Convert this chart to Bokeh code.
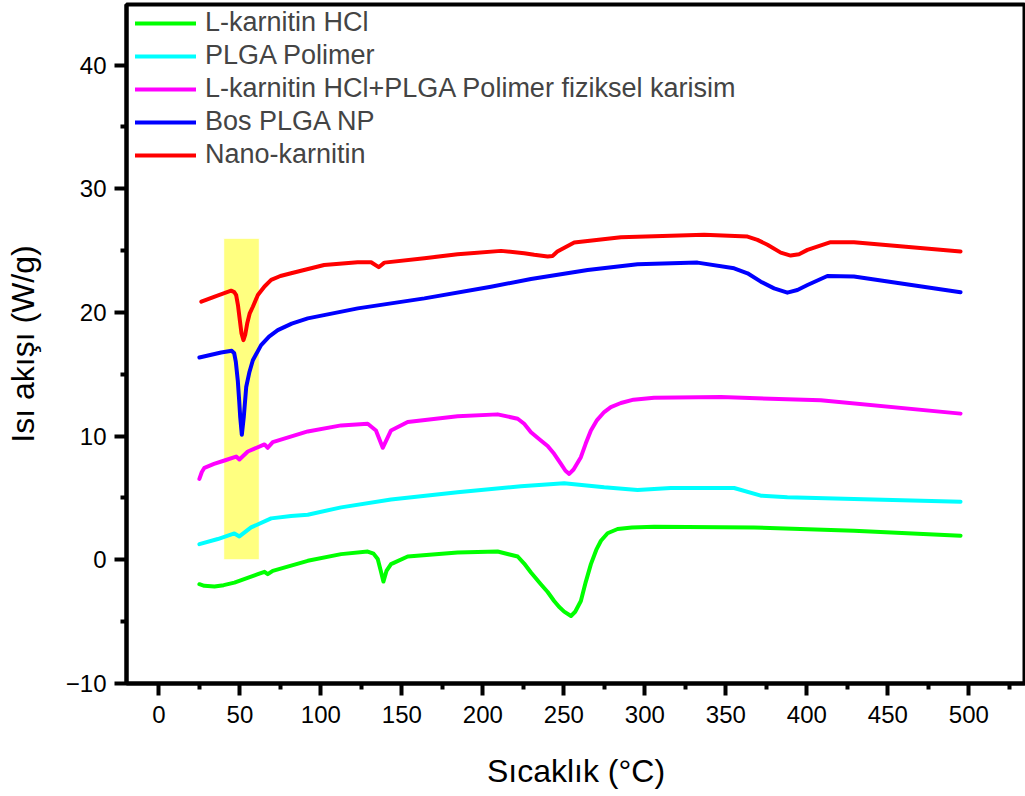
from bokeh.plotting import figure
from bokeh.models import Range1d, FixedTicker, Legend, LegendItem
from bokeh.embed import file_html
from bokeh.resources import INLINE

# ---------------- data ----------------
series_names = ["L-karnitin HCl", "PLGA Polimer",
                "L-karnitin HCl+PLGA Polimer fiziksel karisim",
                "Bos PLGA NP", "Nano-karnitin"]
series_colors = ["#00ff00", "#00ffff", "#ff00ff", "#0000ff", "#ff0000"]

green_x = [25, 28, 34.3, 40, 46.6, 61.1, 65.2, 67.2, 70.3, 91.9, 112.5, 128.9, 132.5,
           135.1, 137, 138.6, 140.5, 143.3, 153.6, 184.4, 209.1, 221.5, 225.5, 229.7,
           235.8, 240, 244, 247, 250.2, 254.4, 257, 260.5, 263.5, 266.7, 270, 272.9,
           277, 283.2, 292, 305.7, 367.4, 429.1, 494.9]
green_y = [-1.97, -2.1, -2.16, -2.05, -1.84, -1.16, -0.97, -1.16, -0.89, -0.08, 0.46,
           0.67, 0.5, 0.06, -0.9, -1.76, -0.9, -0.35, 0.27, 0.59, 0.67, 0.27, -0.3,
           -1.03, -1.97, -2.6, -3.33, -3.8, -4.19, -4.54, -4.2, -3.33, -1.8, -0.35, 0.8,
           1.54, 2.15, 2.49, 2.62, 2.68, 2.62, 2.35, 1.95]

cyan_x = [25, 36.4, 46.6, 49.7, 56.9, 69.3, 81.6, 91.9, 112.5, 143.3, 184.4, 223.5,
          250.2, 274.9, 295.5, 316, 355.1, 371.6, 388, 429.1, 494.9]
cyan_y = [1.27, 1.68, 2.13, 1.89, 2.62, 3.35, 3.54, 3.65, 4.24, 4.87, 5.46, 5.95,
          6.19, 5.86, 5.65, 5.81, 5.81, 5.19, 5.05, 4.92, 4.7]

magenta_x = [25, 26.5, 28.1, 34, 40.5, 47.7, 49.7, 54.9, 65.2, 67.2, 70.3, 91.9, 112.5,
             128.9, 134, 138.2, 143.3, 153.6, 184.4, 209.1, 221.5, 225.5, 229.7, 235.8,
             240, 244, 248, 251, 253.3, 256, 260.5, 263.5, 266.7, 270.5, 274.9, 279,
             285.2, 293, 305.7, 346.9, 408.6, 494.9]
magenta_y = [6.54, 7.1, 7.44, 7.75, 8.03, 8.35, 8.11, 8.76, 9.33, 9.06, 9.51, 10.38,
             10.87, 11.0, 10.46, 9.06, 10.46, 11.14, 11.6, 11.76, 11.41, 11.0, 10.32,
             9.65, 9.2, 8.57, 7.8, 7.2, 6.95, 7.3, 8.3, 9.4, 10.46, 11.3, 11.95, 12.35,
             12.68, 12.95, 13.11, 13.16, 12.9, 11.82]

blue_x = [25, 38.4, 45, 46.5, 47.5, 48.7, 49.6, 50.2, 51.2, 52.4, 53.9, 55.9, 58, 63.1,
          68, 73.4, 82, 91.9, 122.8, 163.9, 205, 229.7, 264.7, 295.5, 332.5, 355.1,
          363.4, 371.6, 379.8, 388, 394.2, 400.4, 412.7, 429.1, 494.9]
blue_y = [16.36, 16.76, 16.9, 16.7, 16.0, 14.5, 12.8, 11.54, 10.11, 11.54, 13.97, 15.19,
          16.14, 17.36, 18.05, 18.57, 19.1, 19.52, 20.33, 21.14, 22.08, 22.71, 23.44,
          23.9, 24.03, 23.57, 23.17, 22.49, 21.95, 21.6, 21.82, 22.22, 22.95, 22.9, 21.63]

red_x = [26.2, 35.3, 44.6, 46.5, 47.7, 48.8, 49.7, 51, 52.2, 53.3, 54.5, 56, 58, 61.1,
         65.2, 69.3, 75, 81.6, 102, 122.7, 131, 135.7, 139.2, 163.9, 184.4, 211.2, 225.5,
         231.7, 240, 243, 246, 256.4, 285.2, 336.6, 363.4, 369.5, 375.7, 383.9, 390,
         395.2, 400.4, 414.7, 429.1, 494.9]
red_y = [20.87, 21.33, 21.76, 21.65, 21.4, 20.6, 19.65, 18.3, 17.76, 18.2, 19.1, 19.9,
         20.46, 21.41, 22.1, 22.63, 22.95, 23.17, 23.84, 24.06, 24.06, 23.66, 24.03,
         24.39, 24.7, 24.98, 24.79, 24.66, 24.52, 24.57, 24.92, 25.65, 26.09, 26.28,
         26.14, 25.87, 25.47, 24.84, 24.6, 24.71, 25.06, 25.68, 25.68, 24.92]

highlight_x = [40, 62]      # temperature span of the yellow highlight
highlight_y = [0, 26]       # heat-flow span of the yellow highlight

x_ticks = list(range(0, 501, 50))
x_minor = list(range(25, 526, 50))
y_ticks = [-10, 0, 10, 20, 30, 40]
y_minor = [-5, 5, 15, 25, 35]

FONT = "Liberation Sans"

p = figure(width=1025, height=796, output_backend="svg", toolbar_location=None,
           x_range=Range1d(-20, 535), y_range=Range1d(-10, 44.9),
           min_border_left=126, min_border_right=0, min_border_top=4,
           min_border_bottom=113)
p.grid.visible = False
p.outline_line_color = "black"
p.outline_line_width = 4
p.background_fill_color = "white"

# highlight box
p.quad(left=highlight_x[0], right=highlight_x[1], bottom=highlight_y[0], top=highlight_y[1],
       fill_color="#ffff80", line_color="white", line_width=1)

xs = [green_x, cyan_x, magenta_x, blue_x, red_x]
ys = [green_y, cyan_y, magenta_y, blue_y, red_y]
renderers = []
for x, y, c in zip(xs, ys, series_colors):
    r = p.line(x, y, line_color=c, line_width=4, line_join="round", line_cap="round")
    renderers.append(r)

# axes styling
for ax in (p.xaxis[0], p.yaxis[0]):
    ax.axis_line_width = 4
    ax.major_tick_line_width = 4
    ax.minor_tick_line_width = 4
    ax.major_tick_out = 12
    ax.major_tick_in = 0
    ax.minor_tick_out = 6
    ax.minor_tick_in = 0
    ax.major_label_text_font = FONT
    ax.major_label_text_font_size = "24px"
    ax.major_label_text_color = "black"
    ax.axis_label_text_font = FONT
    ax.axis_label_text_font_size = "32px"
    ax.axis_label_text_font_style = "normal"
    ax.axis_label_text_color = "black"

p.xaxis.ticker = FixedTicker(ticks=x_ticks, minor_ticks=x_minor)
p.yaxis.ticker = FixedTicker(ticks=y_ticks, minor_ticks=y_minor)
p.xaxis.axis_label = "Sıcaklık (°C)"
p.yaxis.axis_label = "Isı akışı (W/g)"
p.xaxis.major_label_standoff = 10
p.xaxis.axis_label_standoff = 27
p.yaxis.major_label_standoff = 8
p.yaxis.axis_label_standoff = 22

legend = Legend(items=[LegendItem(label=n, renderers=[r]) for n, r in zip(series_names, renderers)],
                location=(9, 513), margin=0, padding=0, spacing=2,
                glyph_width=61, glyph_height=30, label_height=30, label_standoff=9,
                label_text_font=FONT, label_text_font_size="27px",
                border_line_color=None, background_fill_alpha=0)
p.add_layout(legend)

open("out.html", "w").write(file_html(p, INLINE))
